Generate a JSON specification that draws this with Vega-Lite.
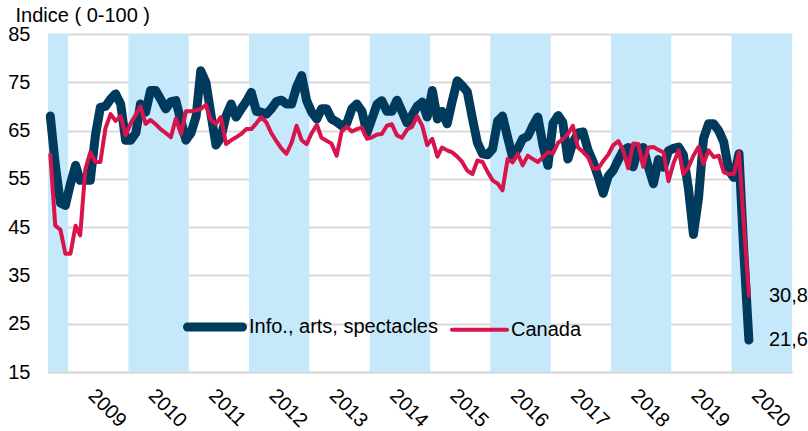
{
  "$schema": "https://vega.github.io/schema/vega-lite/v6.json",
  "width": 744,
  "height": 338,
  "autosize": {"type": "none"},
  "padding": {"left": 48, "top": 34, "right": 16, "bottom": 59},
  "background": "white",
  "config": {"font": "Liberation Sans", "view": {"stroke": null}},
  "datasets": {
    "bands": [
      {"s": "2008-09-01", "e": "2009-01-01"},
      {"s": "2010-01-01", "e": "2011-01-01"},
      {"s": "2012-01-01", "e": "2013-01-01"},
      {"s": "2014-01-01", "e": "2015-01-01"},
      {"s": "2016-01-01", "e": "2017-01-01"},
      {"s": "2018-01-01", "e": "2019-01-01"},
      {"s": "2020-01-01", "e": "2021-01-01"}
    ],
    "ends": [
      {"d": "2020-04-15", "value": 30.8, "label": "30,8"},
      {"d": "2020-04-15", "value": 21.6, "label": "21,6"}
    ],
    "series": [
      {"d": "2008-09-15", "info": 68, "canada": 60},
      {"d": "2008-10-15", "info": 58, "canada": 45.3},
      {"d": "2008-11-15", "info": 50, "canada": 44.5},
      {"d": "2008-12-15", "info": 49.5, "canada": 39.5},
      {"d": "2009-01-15", "info": 54, "canada": 39.5},
      {"d": "2009-02-15", "info": 57.8, "canada": 45.3},
      {"d": "2009-03-15", "info": 54.7, "canada": 43.3},
      {"d": "2009-04-15", "info": 54.7, "canada": 57},
      {"d": "2009-05-15", "info": 54.7, "canada": 60.5},
      {"d": "2009-06-15", "info": 64, "canada": 58.5},
      {"d": "2009-07-15", "info": 69.8, "canada": 58.5},
      {"d": "2009-08-15", "info": 70, "canada": 65.5},
      {"d": "2009-09-15", "info": 71.5, "canada": 68.4},
      {"d": "2009-10-15", "info": 72.6, "canada": 67},
      {"d": "2009-11-15", "info": 70.5, "canada": 68},
      {"d": "2009-12-15", "info": 63, "canada": 64},
      {"d": "2010-01-15", "info": 63, "canada": 66.5},
      {"d": "2010-02-15", "info": 64.5, "canada": 68.3},
      {"d": "2010-03-15", "info": 70.5, "canada": 70},
      {"d": "2010-04-15", "info": 68.8, "canada": 66.4},
      {"d": "2010-05-15", "info": 73.3, "canada": 67.2},
      {"d": "2010-06-15", "info": 73.3, "canada": 66.3},
      {"d": "2010-07-15", "info": 71.5, "canada": 65.3},
      {"d": "2010-08-15", "info": 69.5, "canada": 64.5},
      {"d": "2010-09-15", "info": 71, "canada": 63.6},
      {"d": "2010-10-15", "info": 71.2, "canada": 67.5},
      {"d": "2010-11-15", "info": 67, "canada": 64.3},
      {"d": "2010-12-15", "info": 63, "canada": 69},
      {"d": "2011-01-15", "info": 64.5, "canada": 69},
      {"d": "2011-02-15", "info": 68, "canada": 69.2},
      {"d": "2011-03-15", "info": 77.4, "canada": 69.5},
      {"d": "2011-04-15", "info": 75, "canada": 70.3},
      {"d": "2011-05-15", "info": 68.5, "canada": 67.2},
      {"d": "2011-06-15", "info": 62, "canada": 66.4},
      {"d": "2011-07-15", "info": 63.5, "canada": 67.8},
      {"d": "2011-08-15", "info": 68, "canada": 62.2},
      {"d": "2011-09-15", "info": 70.5, "canada": 63},
      {"d": "2011-10-15", "info": 67.8, "canada": 63.6},
      {"d": "2011-11-15", "info": 69.5, "canada": 64.3},
      {"d": "2011-12-15", "info": 71, "canada": 65.3},
      {"d": "2012-01-15", "info": 72.9, "canada": 65.3},
      {"d": "2012-02-15", "info": 69, "canada": 66.5},
      {"d": "2012-03-15", "info": 68.8, "canada": 67.8},
      {"d": "2012-04-15", "info": 68.4, "canada": 66.7},
      {"d": "2012-05-15", "info": 69.5, "canada": 64.5},
      {"d": "2012-06-15", "info": 71, "canada": 62.8},
      {"d": "2012-07-15", "info": 71.3, "canada": 61.3},
      {"d": "2012-08-15", "info": 70.5, "canada": 60.2},
      {"d": "2012-09-15", "info": 70.5, "canada": 62.5},
      {"d": "2012-10-15", "info": 74, "canada": 66},
      {"d": "2012-11-15", "info": 76.4, "canada": 63},
      {"d": "2012-12-15", "info": 71.2, "canada": 62.2},
      {"d": "2013-01-15", "info": 68.8, "canada": 64.5},
      {"d": "2013-02-15", "info": 67.4, "canada": 66.2},
      {"d": "2013-03-15", "info": 69.5, "canada": 63.5},
      {"d": "2013-04-15", "info": 69.5, "canada": 62.9},
      {"d": "2013-05-15", "info": 67.4, "canada": 62.3},
      {"d": "2013-06-15", "info": 66.8, "canada": 59.8},
      {"d": "2013-07-15", "info": 66, "canada": 64.8},
      {"d": "2013-08-15", "info": 66.5, "canada": 65.8},
      {"d": "2013-09-15", "info": 69.5, "canada": 64.8},
      {"d": "2013-10-15", "info": 70.5, "canada": 65.3},
      {"d": "2013-11-15", "info": 69, "canada": 65.6},
      {"d": "2013-12-15", "info": 64.5, "canada": 63.3},
      {"d": "2014-01-15", "info": 67.5, "canada": 63.6},
      {"d": "2014-02-15", "info": 70.5, "canada": 64.2},
      {"d": "2014-03-15", "info": 71.2, "canada": 64.3},
      {"d": "2014-04-15", "info": 69, "canada": 66},
      {"d": "2014-05-15", "info": 69, "canada": 66.3},
      {"d": "2014-06-15", "info": 71.3, "canada": 64},
      {"d": "2014-07-15", "info": 69, "canada": 63.5},
      {"d": "2014-08-15", "info": 66.6, "canada": 65.2},
      {"d": "2014-09-15", "info": 68.2, "canada": 65.8},
      {"d": "2014-10-15", "info": 70, "canada": 68},
      {"d": "2014-11-15", "info": 70.9, "canada": 66},
      {"d": "2014-12-15", "info": 67.8, "canada": 62},
      {"d": "2015-01-15", "info": 73.3, "canada": 63.3},
      {"d": "2015-02-15", "info": 67.4, "canada": 59.6},
      {"d": "2015-03-15", "info": 69, "canada": 61.5},
      {"d": "2015-04-15", "info": 66.4, "canada": 60.9},
      {"d": "2015-05-15", "info": 71, "canada": 60.5},
      {"d": "2015-06-15", "info": 75.3, "canada": 59.6},
      {"d": "2015-07-15", "info": 74.3, "canada": 58.5},
      {"d": "2015-08-15", "info": 73, "canada": 56.7},
      {"d": "2015-09-15", "info": 67.5, "canada": 56},
      {"d": "2015-10-15", "info": 62.5, "canada": 58.8},
      {"d": "2015-11-15", "info": 60.2, "canada": 58.5},
      {"d": "2015-12-15", "info": 60, "canada": 56.5},
      {"d": "2016-01-15", "info": 61.2, "canada": 54.7},
      {"d": "2016-02-15", "info": 67, "canada": 54},
      {"d": "2016-03-15", "info": 68, "canada": 52.6},
      {"d": "2016-04-15", "info": 63.6, "canada": 59.1},
      {"d": "2016-05-15", "info": 59.5, "canada": 58.4},
      {"d": "2016-06-15", "info": 61.2, "canada": 60.2},
      {"d": "2016-07-15", "info": 63.3, "canada": 57.8},
      {"d": "2016-08-15", "info": 63.8, "canada": 59.8},
      {"d": "2016-09-15", "info": 66, "canada": 59.1},
      {"d": "2016-10-15", "info": 67.8, "canada": 58.5},
      {"d": "2016-11-15", "info": 62, "canada": 59.5},
      {"d": "2016-12-15", "info": 57.8, "canada": 60.5},
      {"d": "2017-01-15", "info": 66.5, "canada": 60.3},
      {"d": "2017-02-15", "info": 68.1, "canada": 62.5},
      {"d": "2017-03-15", "info": 66.7, "canada": 63.2},
      {"d": "2017-04-15", "info": 59.1, "canada": 64.3},
      {"d": "2017-05-15", "info": 62.5, "canada": 66},
      {"d": "2017-06-15", "info": 64.5, "canada": 61.5},
      {"d": "2017-07-15", "info": 64.7, "canada": 60.6},
      {"d": "2017-08-15", "info": 61, "canada": 59.5},
      {"d": "2017-09-15", "info": 58.5, "canada": 57.2},
      {"d": "2017-10-15", "info": 55.5, "canada": 57.1},
      {"d": "2017-11-15", "info": 52, "canada": 58.7},
      {"d": "2017-12-15", "info": 55.5, "canada": 60},
      {"d": "2018-01-15", "info": 56.8, "canada": 62},
      {"d": "2018-02-15", "info": 59, "canada": 62.8},
      {"d": "2018-03-15", "info": 60.8, "canada": 61},
      {"d": "2018-04-15", "info": 61.5, "canada": 57.2},
      {"d": "2018-05-15", "info": 57.5, "canada": 62.3},
      {"d": "2018-06-15", "info": 61.2, "canada": 62.2},
      {"d": "2018-07-15", "info": 61.5, "canada": 57.5},
      {"d": "2018-08-15", "info": 57.5, "canada": 61.5},
      {"d": "2018-09-15", "info": 54, "canada": 61.6},
      {"d": "2018-10-15", "info": 59, "canada": 61},
      {"d": "2018-11-15", "info": 57.4, "canada": 60.5},
      {"d": "2018-12-15", "info": 60.8, "canada": 54.5},
      {"d": "2019-01-15", "info": 61.3, "canada": 58.3},
      {"d": "2019-02-15", "info": 61.6, "canada": 60.9},
      {"d": "2019-03-15", "info": 60, "canada": 56},
      {"d": "2019-04-15", "info": 53, "canada": 57.4},
      {"d": "2019-05-15", "info": 43.5, "canada": 59.8},
      {"d": "2019-06-15", "info": 51, "canada": 61.6},
      {"d": "2019-07-15", "info": 63.3, "canada": 58.1},
      {"d": "2019-08-15", "info": 66.4, "canada": 60.9},
      {"d": "2019-09-15", "info": 66.4, "canada": 59.5},
      {"d": "2019-10-15", "info": 65, "canada": 59.8},
      {"d": "2019-11-15", "info": 62.6, "canada": 56.4},
      {"d": "2019-12-15", "info": 56.7, "canada": 56},
      {"d": "2020-01-15", "info": 55.3, "canada": 56},
      {"d": "2020-02-15", "info": 60.2, "canada": 60.5},
      {"d": "2020-03-15", "info": 40, "canada": 46},
      {"d": "2020-04-15", "info": 21.6, "canada": 30.8}
    ]
  },
  "layer": [
    {
      "data": {"name": "bands"},
      "mark": {"type": "rect", "color": "#C5E8FB"},
      "encoding": {
        "x": {"field": "s", "type": "temporal", "scale": {"type": "utc", "domain": [{"year": 2008, "month": 9, "date": 1, "utc": true}, {"year": 2021, "month": 1, "date": 1, "utc": true}]},
          "axis": {
            "values": [
              {"year": 2009, "month": 7, "date": 1, "utc": true},
              {"year": 2010, "month": 7, "date": 1, "utc": true},
              {"year": 2011, "month": 7, "date": 1, "utc": true},
              {"year": 2012, "month": 7, "date": 1, "utc": true},
              {"year": 2013, "month": 7, "date": 1, "utc": true},
              {"year": 2014, "month": 7, "date": 1, "utc": true},
              {"year": 2015, "month": 7, "date": 1, "utc": true},
              {"year": 2016, "month": 7, "date": 1, "utc": true},
              {"year": 2017, "month": 7, "date": 1, "utc": true},
              {"year": 2018, "month": 7, "date": 1, "utc": true},
              {"year": 2019, "month": 7, "date": 1, "utc": true},
              {"year": 2020, "month": 7, "date": 1, "utc": true}
            ],
            "format": "%Y", "labelAngle": 45, "labelAlign": "left", "labelBaseline": "top",
            "labelFontSize": 20, "labelColor": "black", "ticks": false, "grid": false,
            "domainColor": "#D9D9D9", "domainWidth": 2, "labelPadding": 13, "title": null,
            "zindex": 1, "labelFlush": false, "labelOverlap": false
          }
        },
        "x2": {"field": "e"}
      }
    },
    {
      "data": {"name": "series"},
      "transform": [{"fold": ["info", "canada"], "as": ["key", "value"]}],
      "mark": {"type": "line", "strokeCap": "round", "strokeJoin": "round"},
      "encoding": {
        "x": {"field": "d", "type": "temporal", "scale": {"type": "utc"}},
        "y": {"field": "value", "type": "quantitative",
          "scale": {"domain": [15, 85], "nice": false, "zero": false},
          "axis": {"values": [15, 25, 35, 45, 55, 65, 75, 85], "domain": false, "ticks": false,
            "labelFontSize": 20, "labelColor": "black", "labelPadding": 18,
            "gridColor": "#D9D9D9", "gridWidth": 2,
            "title": "Indice ( 0-100 )", "titleAngle": 0, "titleX": -33, "titleY": -13,
            "titleAlign": "left", "titleBaseline": "alphabetic", "titleFontSize": 20,
            "titleFontWeight": "normal", "titleColor": "black"}
        },
        "color": {"field": "key", "type": "nominal",
          "scale": {"domain": ["info", "canada"], "range": ["#003A5D", "#D7144B"]},
          "legend": {"orient": "none", "legendX": 135, "legendY": 261, "direction": "horizontal",
            "title": null, "symbolType": "stroke", "symbolSize": 3025, "labelFontSize": 20,
            "labelColor": "black", "labelLimit": 400, "labelOffset": 2, "columnPadding": 6,
            "labelExpr": "datum.label == 'info' ? 'Info., arts, spectacles' : 'Canada'",
            "encode": {"symbols": {"update": {"strokeCap": {"value": "round"}}}}}
        },
        "strokeWidth": {"field": "key", "type": "nominal",
          "scale": {"domain": ["info", "canada"], "range": [9, 4]}, "legend": null}
      }
    },
    {
      "data": {"name": "ends"},
      "mark": {"type": "text", "align": "left", "baseline": "middle", "dx": 20, "fontSize": 20, "color": "black"},
      "encoding": {
        "x": {"field": "d", "type": "temporal", "scale": {"type": "utc"}},
        "y": {"field": "value", "type": "quantitative"},
        "text": {"field": "label"}
      }
    }
  ]
}
